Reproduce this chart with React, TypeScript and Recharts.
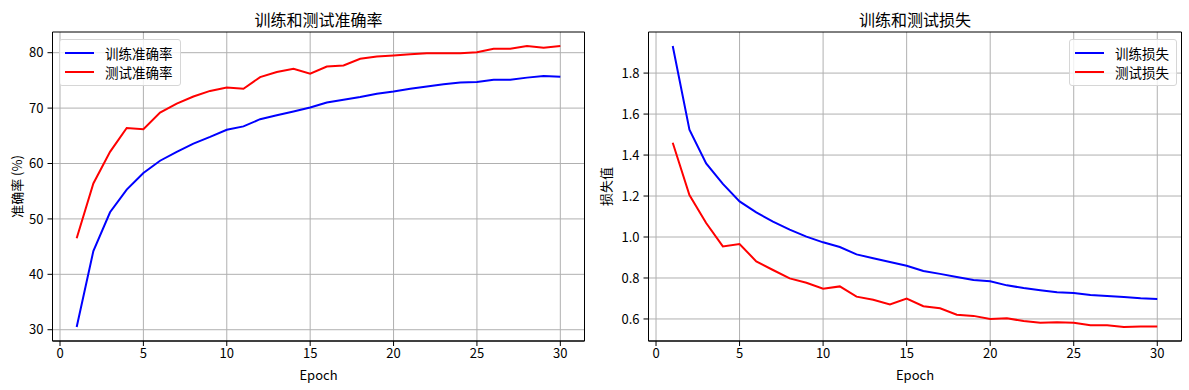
import React from 'react';
import { LineChart, Line, XAxis, YAxis, CartesianGrid, Legend, ReferenceArea } from 'recharts';

const epochs = [1, 2, 3, 4, 5, 6, 7, 8, 9, 10, 11, 12, 13, 14, 15, 16, 17, 18, 19, 20, 21, 22, 23, 24, 25, 26, 27, 28, 29, 30];
const trainAcc = [30.5, 44.2, 51.2, 55.3, 58.3, 60.5, 62.1, 63.6, 64.8, 66.1, 66.7, 68.0, 68.7, 69.4, 70.1, 71.0, 71.5, 72.0, 72.6, 73.0, 73.5, 73.9, 74.3, 74.6, 74.7, 75.1, 75.1, 75.5, 75.8, 75.65];
const testAcc = [46.5, 56.4, 62.1, 66.4, 66.2, 69.2, 70.8, 72.1, 73.1, 73.7, 73.5, 75.6, 76.5, 77.1, 76.2, 77.5, 77.7, 78.9, 79.3, 79.5, 79.7, 79.9, 79.9, 79.9, 80.1, 80.7, 80.7, 81.2, 80.9, 81.2];
const trainLoss = [1.932, 1.524, 1.359, 1.259, 1.174, 1.12, 1.075, 1.036, 1.002, 0.974, 0.951, 0.915, 0.896, 0.878, 0.86, 0.834, 0.82, 0.805, 0.79, 0.784, 0.764, 0.751, 0.74, 0.73, 0.727, 0.717, 0.712, 0.707, 0.701, 0.698];
const testLoss = [1.46, 1.205, 1.068, 0.954, 0.966, 0.881, 0.839, 0.798, 0.777, 0.748, 0.759, 0.709, 0.694, 0.671, 0.7, 0.662, 0.652, 0.621, 0.615, 0.6, 0.603, 0.59, 0.582, 0.584, 0.582, 0.569, 0.569, 0.561, 0.563, 0.563];

const xTicks = [0, 5, 10, 15, 20, 25, 30];
const accTicks = [30, 40, 50, 60, 70, 80];
const lossTicks = [0.6, 0.8, 1.0, 1.2, 1.4, 1.6, 1.8];

const accTitle = '训练和测试准确率';
const lossTitle = '训练和测试损失';
const accYLabel = '准确率 (%)';
const lossYLabel = '损失值';
const xLabel = 'Epoch';
const accNames = ['训练准确率', '测试准确率'];
const lossNames = ['训练损失', '测试损失'];

const FONT = '"Noto Sans CJK SC", "Noto Sans", sans-serif';

const accData = epochs.map((e, i) => ({ epoch: e, train: trainAcc[i], test: testAcc[i] }));
const lossData = epochs.map((e, i) => ({ epoch: e, train: trainLoss[i], test: testLoss[i] }));

function pad(vals: number[]): [number, number] {
  const mn = Math.min(...vals);
  const mx = Math.max(...vals);
  const m = (mx - mn) * 0.05;
  return [mn - m, mx + m];
}

const xDomain = pad(epochs);
const accDomain = pad([...trainAcc, ...testAcc]);
const lossDomain = pad([...trainLoss, ...testLoss]);

const tickStyle = { fill: '#000', fontSize: 13, fontFamily: FONT };

function LegendBox({ names }: { names: string[] }) {
  const colors = ['#0000ff', '#ff0000'];
  return (
    <div
      style={{
        border: '1px solid #d6d6d6',
        borderRadius: 3,
        background: 'rgba(255,255,255,0.8)',
        padding: '3px 7px 3px 5px',
        fontFamily: FONT,
        fontSize: 13.5,
        color: '#000',
      }}
    >
      {names.map((n, i) => (
        <div key={n} style={{ display: 'flex', alignItems: 'center', height: 19.5 }}>
          <div style={{ width: 29, height: 2, background: colors[i], marginRight: 11 }} />
          <span style={{ whiteSpace: 'nowrap' }}>{n}</span>
        </div>
      ))}
    </div>
  );
}

function yLabel(text: string, x: number) {
  return (props: any) => {
    const vb = props.viewBox || {};
    const cy = (vb.y || 0) + (vb.height || 0) / 2;
    return (
      <text
        x={x}
        y={cy}
        transform={`rotate(-90, ${x}, ${cy})`}
        textAnchor="middle"
        dominantBaseline="central"
        style={{ fontSize: 13, fontFamily: FONT, fill: '#000' }}
      >
        {text}
      </text>
    );
  };
}

function xLabelContent(props: any) {
  const vb = props.viewBox || {};
  const cx = (vb.x || 0) + (vb.width || 0) / 2;
  return (
    <text
      x={cx}
      y={374}
      textAnchor="middle"
      dominantBaseline="central"
      style={{ fontSize: 13, fontFamily: FONT, fill: '#000' }}
    >
      {xLabel}
    </text>
  );
}

function Panel(props: {
  data: any[];
  width: number;
  yWidth: number;
  right: number;
  yDomain: [number, number];
  yTicks: number[];
  fmt: (v: number) => string;
  names: string[];
  legendStyle: React.CSSProperties;
  yText: string;
  yTextX: number;
}) {
  const { data, width, yWidth, right, yDomain, yTicks, fmt, names, legendStyle, yText, yTextX } = props;
  return (
    <LineChart width={width} height={390} data={data} margin={{ top: 32, right, left: 0, bottom: 0 }}>
      <CartesianGrid
        stroke="#b0b0b0"
        strokeWidth={1}
        horizontalValues={yTicks}
        verticalValues={xTicks}
      />
      <XAxis
        dataKey="epoch"
        type="number"
        domain={xDomain}
        ticks={xTicks}
        allowDataOverflow
        height={49}
        tickSize={5}
        tickMargin={3}
        tick={tickStyle}
        axisLine={{ stroke: '#000' }}
        tickLine={{ stroke: '#000' }}
        interval={0}
        label={xLabelContent}
      />
      <YAxis
        type="number"
        domain={yDomain}
        ticks={yTicks}
        allowDataOverflow
        width={yWidth}
        tickSize={5}
        tickMargin={4}
        tick={tickStyle}
        tickFormatter={fmt}
        axisLine={{ stroke: '#000' }}
        tickLine={{ stroke: '#000' }}
        interval={0}
        label={yLabel(yText, yTextX)}
      />
      <ReferenceArea
        x1={xDomain[0]}
        x2={xDomain[1]}
        y1={yDomain[0]}
        y2={yDomain[1]}
        fill="none"
        stroke="#000"
        strokeWidth={1}
        ifOverflow="visible"
      />
      <Line type="linear" dataKey="train" name={names[0]} stroke="#0000ff" strokeWidth={2} dot={false} isAnimationActive={false} />
      <Line type="linear" dataKey="test" name={names[1]} stroke="#ff0000" strokeWidth={2} dot={false} isAnimationActive={false} />
      <Legend
        layout="vertical"
        align="center"
        verticalAlign="middle"
        wrapperStyle={{ ...legendStyle, width: 'auto', height: 'auto' }}
        content={() => <LegendBox names={names} />}
      />
    </LineChart>
  );
}

const titleStyle = (cx: number): React.CSSProperties => ({
  position: 'absolute',
  left: cx - 150,
  width: 300,
  top: 7,
  height: 24,
  lineHeight: '24px',
  textAlign: 'center',
  fontFamily: FONT,
  fontSize: 16,
  color: '#000',
});

export default function App() {
  return (
    <div style={{ position: 'absolute', left: 0, top: 0, width: 1189, height: 390, background: '#fff', overflow: 'hidden' }}>
      <div style={{ position: 'absolute', left: 0, top: 0 }}>
        <Panel
          data={accData}
          width={595}
          yWidth={52.5}
          right={10.5}
          yDomain={accDomain}
          yTicks={accTicks}
          fmt={(v) => String(v)}
          names={accNames}
          legendStyle={{ left: 59, top: 39 }}
          yText={accYLabel}
          yTextX={16}
        />
      </div>
      <div style={{ position: 'absolute', left: 595, top: 0 }}>
        <Panel
          data={lossData}
          width={594}
          yWidth={53.5}
          right={7.5}
          yDomain={lossDomain}
          yTicks={lossTicks}
          fmt={(v) => v.toFixed(1)}
          names={lossNames}
          legendStyle={{ left: 474, top: 39 }}
          yText={lossYLabel}
          yTextX={10.5}
        />
      </div>
      <div style={titleStyle(318.5)}>{accTitle}</div>
      <div style={titleStyle(915)}>{lossTitle}</div>
    </div>
  );
}
